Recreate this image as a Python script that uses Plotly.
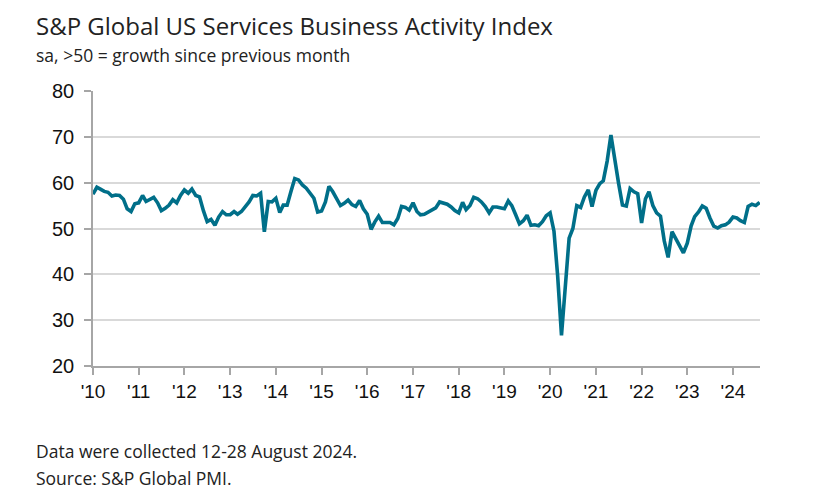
import plotly.graph_objects as go
import pandas as pd

# ---- data (monthly, Jan 2010 - Aug 2024) ----
y2010 = [57.5, 59.0, 58.6, 58.1, 57.9, 57.1, 57.3, 57.2, 56.4, 54.3, 53.7, 55.4]
y2011 = [55.6, 57.2, 55.9, 56.4, 56.8, 55.6, 53.9, 54.4, 55.1, 56.3, 55.6, 57.2]
y2012 = [58.4, 57.7, 58.6, 57.2, 56.9, 53.9, 51.5, 52.0, 50.7, 52.5, 53.7, 53.0]
y2013 = [53.0, 53.7, 53.1, 53.7, 54.7, 55.8, 57.2, 57.1, 57.7, 49.3, 55.9, 55.8]
y2014 = [56.6, 53.5, 55.1, 55.1, 58.0, 60.9, 60.6, 59.5, 58.8, 57.6, 56.6, 53.6]
y2015 = [53.8, 55.8, 59.2, 58.0, 56.5, 55.0, 55.5, 56.2, 55.2, 54.8, 56.1, 54.3]
y2016 = [53.1, 49.8, 51.4, 52.7, 51.3, 51.3, 51.3, 50.8, 52.2, 54.8, 54.6, 54.0]
y2017 = [55.6, 53.7, 53.0, 53.1, 53.5, 54.0, 54.5, 55.8, 55.5, 55.3, 54.7, 53.9]
y2018 = [53.4, 55.7, 54.1, 55.0, 56.8, 56.5, 55.8, 54.8, 53.4, 54.7, 54.7, 54.4]
y2019 = [54.3, 56.0, 55.0, 53.0, 51.0, 51.7, 52.9, 50.7, 50.8, 50.6, 51.5, 52.8]
y2020 = [53.4, 49.4, 39.8, 26.7, 37.5, 47.9, 50.0, 55.0, 54.6, 56.9, 58.4, 54.8]
y2021 = [58.3, 59.8, 60.4, 64.7, 70.4, 64.6, 59.9, 55.1, 54.9, 58.7, 58.0, 57.6]
y2022 = [51.2, 56.5, 58.0, 55.0, 53.4, 52.7, 47.3, 43.7, 49.3, 47.8, 46.2, 44.7]
y2023 = [46.8, 50.6, 52.6, 53.6, 54.9, 54.4, 52.3, 50.5, 50.1, 50.6, 50.8, 51.4]
y2024 = [52.5, 52.3, 51.7, 51.3, 54.8, 55.3, 55.0, 55.7]

values = (y2010 + y2011 + y2012 + y2013 + y2014 + y2015 + y2016 + y2017 +
          y2018 + y2019 + y2020 + y2021 + y2022 + y2023 + y2024)
dates = pd.date_range("2010-01-01", periods=len(values), freq="MS")

years = list(range(2010, 2025))
tick_vals = [pd.Timestamp(f"{y}-01-01") for y in years]
tick_text = ["'" + str(y)[2:] for y in years]
y_ticks = [20, 30, 40, 50, 60, 70, 80]

title = "S&P Global US Services Business Activity Index"
subtitle = "sa, >50 = growth since previous month"
footer1 = "Data were collected 12-28 August 2024."
footer2 = "Source: S&P Global PMI."

LINE = "#006f89"
AXIS = "#a6a6a6"
GRID = "#d9d9d9"
TXT = "#222222"
HEAD_FONT = "Open Sans"

fig = go.Figure()
fig.add_trace(go.Scatter(
    x=dates, y=values, mode="lines",
    line=dict(color=LINE, width=3.6, shape="linear"),
    hoverinfo="skip", showlegend=False,
))

L, R, T, B = 93, 57, 91, 129
W, H = 817, 495
pw, ph = W - L - R, H - T - B

def px(x):
    return (x - L) / pw

def py(y):
    return (H - B - y) / ph

fig.update_layout(
    width=W, height=H,
    margin=dict(l=L, r=R, t=T, b=B, pad=0),
    paper_bgcolor="white", plot_bgcolor="white",
    font=dict(family="Liberation Sans, Arial", color=TXT),
    xaxis=dict(
        type="date",
        range=[dates[0], dates[-1] + pd.Timedelta(days=3)],
        tickvals=tick_vals, ticktext=tick_text,
        showline=True, linecolor=AXIS, linewidth=1.5,
        ticks="outside", ticklen=7, tickwidth=1.5, tickcolor=AXIS,
        showgrid=False, zeroline=False,
        tickfont=dict(size=19, family="Liberation Sans, Arial", color="#111"),
    ),
    yaxis=dict(
        range=[20, 80], tickvals=y_ticks,
        showline=True, linecolor=AXIS, linewidth=1.5,
        ticks="outside", ticklen=7, tickwidth=1.5, tickcolor=AXIS,
        showgrid=True, gridcolor=GRID, gridwidth=1.5,
        zeroline=False,
        tickfont=dict(size=20, family="Liberation Sans, Arial", color="#111"),
        ticklabelstandoff=6,
    ),
    annotations=[
        dict(text=title, xref="paper", yref="paper", x=px(34), y=py(25),
             xanchor="left", yanchor="middle", showarrow=False,
             font=dict(size=24, family=HEAD_FONT, color=TXT)),
        dict(text=subtitle, xref="paper", yref="paper", x=px(34), y=py(55),
             xanchor="left", yanchor="middle", showarrow=False,
             font=dict(size=17.5, family=HEAD_FONT, color=TXT)),
        dict(text=footer1, xref="paper", yref="paper", x=px(34), y=py(451),
             xanchor="left", yanchor="middle", showarrow=False,
             font=dict(size=17.5, family=HEAD_FONT, color=TXT)),
        dict(text=footer2, xref="paper", yref="paper", x=px(34), y=py(478),
             xanchor="left", yanchor="middle", showarrow=False,
             font=dict(size=17.5, family=HEAD_FONT, color=TXT)),
    ],
)

fig.write_html("out.html")
